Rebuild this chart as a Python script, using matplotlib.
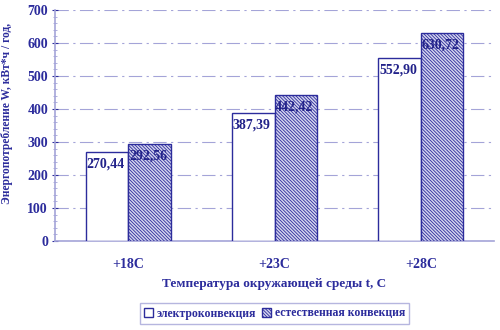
import matplotlib
matplotlib.use('Agg')
import matplotlib.pyplot as plt
import numpy as np

categories = ['+18C', '+23C', '+28C']
electro = [270.44, 387.39, 552.90]
natural = [292.56, 442.42, 630.72]
series_names = ['электроконвекция', 'естественная конвекция']

blue = '#2c2c9c'
grid_blue = '#a4a4d8'

plt.rcParams['font.family'] = ['Liberation Serif', 'DejaVu Serif']
plt.rcParams['font.weight'] = 'bold'
plt.rcParams['hatch.linewidth'] = 0.6
plt.rcParams['hatch.color'] = '#5050b4'

fig = plt.figure(figsize=(5, 3.3), dpi=100)
ax = fig.add_axes([0.11, 0.27, 0.878, 0.70])

x = np.arange(len(categories))
w = 0.29
b1 = ax.bar(x - w / 2, electro, w, facecolor='white', edgecolor=blue, lw=1.0,
            label=series_names[0], zorder=3)
b2 = ax.bar(x + w / 2, natural, w, facecolor='#d4d4ee', edgecolor=blue, lw=1.0,
            hatch='\\' * 10, label=series_names[1], zorder=3)

for bars, vals in ((b1, electro), (b2, natural)):
    for r, v in zip(bars, vals):
        ax.annotate(f'{v:.2f}'.replace('.', ','), (r.get_x() + r.get_width() / 2, v),
                    xytext=(-1, -4), textcoords='offset points', ha='center', va='top',
                    fontsize=10, color='#22228a', fontweight='bold', zorder=4)

ax.set_xlim(-0.5, 2.5)
ax.set_ylim(0, 700)
ax.set_yticks(range(0, 701, 100))
ax.set_yticks(range(0, 701, 20), minor=True)
ax.set_xticks(x)
ax.set_xticklabels(categories)
ax.tick_params(axis='x', length=0, pad=12, labelsize=10, colors=blue)
ax.tick_params(axis='y', which='major', length=4, direction='inout', labelsize=10, colors=blue, pad=3)
ax.tick_params(axis='y', which='minor', length=2.5, direction='inout', colors=grid_blue)

ax.yaxis.grid(True, linestyle=(0, (12, 4, 2, 4)), color=grid_blue, lw=0.8, zorder=0)
for s in ('top', 'right'):
    ax.spines[s].set_visible(False)
for s in ('left', 'bottom'):
    ax.spines[s].set_color(grid_blue)
    ax.spines[s].set_linewidth(1.2)

ax.set_xlabel('Температура окружающей среды t, С', fontsize=9.5, color=blue,
              fontweight='bold', labelpad=5)
ax.set_ylabel('Энергопотребление W, кВт*ч / год,', fontsize=8.3, color=blue,
              fontweight='bold')
ax.yaxis.set_label_coords(-0.095, 0.55)

leg = fig.legend(loc='center', bbox_to_anchor=(0.549, 0.05), ncol=2, frameon=True,
                 fancybox=False, edgecolor=grid_blue, fontsize=8.5, handlelength=0.8,
                 handleheight=0.8, handletextpad=0.3, columnspacing=0.5,
                 borderpad=0.35)
for t in leg.get_texts():
    t.set_color(blue)

fig.savefig('out.png', dpi=100)
